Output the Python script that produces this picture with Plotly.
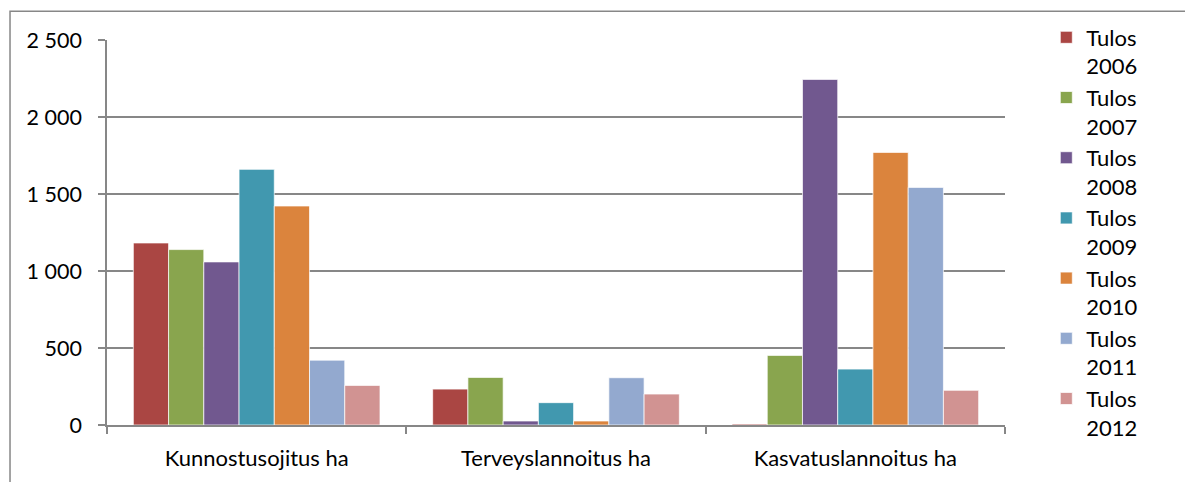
import plotly.graph_objects as go

categories = ["Kunnostusojitus ha", "Terveyslannoitus ha", "Kasvatuslannoitus ha"]
series_names = ["Tulos<br>2006", "Tulos<br>2007", "Tulos<br>2008", "Tulos<br>2009",
                "Tulos<br>2010", "Tulos<br>2011", "Tulos<br>2012"]
tulos_2006 = [1182, 233, 6]
tulos_2007 = [1139, 309, 452]
tulos_2008 = [1059, 26, 2244]
tulos_2009 = [1660, 145, 363]
tulos_2010 = [1422, 26, 1770]
tulos_2011 = [421, 307, 1543]
tulos_2012 = [257, 201, 225]
series_values = [tulos_2006, tulos_2007, tulos_2008, tulos_2009, tulos_2010, tulos_2011, tulos_2012]
colors = ["#AA4643", "#89A54E", "#71588F", "#4198AF", "#DB843D", "#93A9CF", "#D19392"]
y_ticks = [0, 500, 1000, 1500, 2000, 2500]

FONT = "Lato, Carlito, Calibri, sans-serif"
GRID = "#878787"

fig = go.Figure()
for name, vals, col in zip(series_names, series_values, colors):
    fig.add_trace(go.Bar(
        x=categories, y=vals, name=name, legendgroup=name,
        marker=dict(color=col, line=dict(color="rgba(255,255,255,0.7)", width=1)),
    ))

fig.update_layout(
    width=1185, height=474,
    barmode="group", bargap=0.176, bargroupgap=0,
    paper_bgcolor="white", plot_bgcolor="white",
    margin=dict(l=99, r=188, t=32, b=57, autoexpand=False),
    separators=", ",
    font=dict(family=FONT, size=22, color="#000000"),
    legend=dict(x=1.046, y=1.061, xanchor="left", yanchor="top",
                tracegroupgap=0, itemwidth=30, valign="top", maxheight=470,
                font=dict(family=FONT, size=22, color="#000000"),
                bgcolor="rgba(0,0,0,0)"),
    showlegend=True,
)
fig.update_yaxes(range=[0, 2500], tickvals=y_ticks, tickformat=",",
                 showgrid=True, gridcolor=GRID, gridwidth=1.5,
                 showline=True, linecolor=GRID, linewidth=1.5,
                 ticks="outside", ticklen=7, tickcolor=GRID, tickwidth=1.5,
                 ticklabelstandoff=12,
                 zeroline=False, tickfont=dict(size=21.5))
fig.update_xaxes(showline=True, linecolor=GRID, linewidth=1.5,
                 ticks="outside", tickson="boundaries", ticklen=7,
                 tickcolor=GRID, tickwidth=1.5, ticklabelstandoff=13,
                 tickfont=dict(size=22))

# outer chart border
fig.add_shape(type="rect", xref="paper", yref="paper",
              x0=-0.108, x1=1.5, y0=-0.5, y1=1.075,
              line=dict(color=GRID, width=1.5), fillcolor="rgba(0,0,0,0)", layer="below")

fig.write_html("out.html")
